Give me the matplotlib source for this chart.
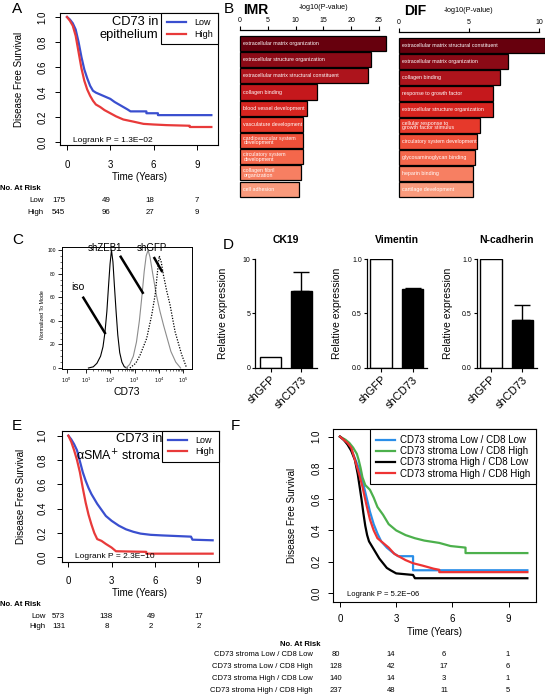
import numpy as np
import matplotlib.pyplot as plt

plt.rcParams['font.family'] = ['Liberation Sans', 'DejaVu Sans']

W, H = 545, 696

# ---------------- data ----------------
# A: CD73 in epithelium (Kaplan-Meier)
a_low_t = [0, 0.2, 0.4, 0.6, 0.8, 1.0, 1.2, 1.4, 1.6, 1.8, 2.0, 2.3, 2.6, 3.0, 3.3, 3.6, 3.9, 4.2, 4.4, 5.5, 5.5, 6.3, 6.3, 10]
a_low_s = [1.0, 0.98, 0.95, 0.90, 0.80, 0.68, 0.58, 0.51, 0.45, 0.41, 0.395, 0.38, 0.365, 0.345, 0.32, 0.30, 0.28, 0.26, 0.245, 0.245, 0.23, 0.23, 0.215, 0.215]
a_high_t = [0, 0.2, 0.4, 0.6, 0.8, 1.0, 1.2, 1.4, 1.6, 1.8, 2.0, 2.3, 2.6, 3.0, 3.4, 3.9, 4.6, 5.3, 6.0, 6.9, 8.5, 8.5, 10]
a_high_s = [1.0, 0.97, 0.93, 0.85, 0.72, 0.59, 0.49, 0.42, 0.37, 0.33, 0.30, 0.28, 0.255, 0.23, 0.205, 0.18, 0.163, 0.145, 0.14, 0.135, 0.13, 0.12, 0.12]
a_risk_low = [175, 49, 18, 7]
a_risk_high = [545, 96, 27, 9]

# E: CD73 in aSMA+ stroma
e_low_t = [0, 0.2, 0.4, 0.6, 0.8, 1.0, 1.2, 1.4, 1.6, 1.8, 2.0, 2.3, 2.6, 3.0, 3.5, 4.0, 4.5, 5.0, 5.7, 6.5, 7.5, 8.5, 8.6, 10]
e_low_s = [1.0, 0.97, 0.93, 0.88, 0.79, 0.70, 0.63, 0.57, 0.52, 0.48, 0.44, 0.39, 0.34, 0.30, 0.26, 0.23, 0.21, 0.195, 0.185, 0.18, 0.175, 0.17, 0.145, 0.14]
e_high_t = [0, 0.2, 0.4, 0.6, 0.8, 1.0, 1.2, 1.4, 1.6, 1.8, 2.0, 2.3, 2.6, 3.0, 3.3, 5.4, 5.4, 10]
e_high_s = [1.0, 0.95, 0.88, 0.80, 0.70, 0.57, 0.45, 0.35, 0.27, 0.20, 0.15, 0.135, 0.11, 0.08, 0.05, 0.045, 0.03, 0.03]
e_risk_low = [573, 138, 49, 17]
e_risk_high = [131, 8, 2, 2]

# F: CD73 stroma x CD8 groups
f_labels = ['CD73 stroma Low / CD8 Low', 'CD73 stroma Low / CD8 High',
            'CD73 stroma High / CD8 Low', 'CD73 stroma High / CD8 High']
f_ll_t = [0, 0.2, 0.4, 0.6, 0.8, 1.0, 1.2, 1.4, 1.6, 1.8, 2.0, 2.2, 2.5, 2.8, 3.1, 3.9, 3.9, 10]
f_ll_s = [1.0, 0.98, 0.96, 0.92, 0.86, 0.80, 0.72, 0.62, 0.52, 0.44, 0.38, 0.33, 0.29, 0.26, 0.235, 0.235, 0.145, 0.145]
f_lh_t = [0, 0.3, 0.5, 0.7, 0.9, 1.0, 1.1, 1.2, 1.35, 1.6, 1.8, 2.0, 2.3, 2.6, 3.0, 3.5, 4.0, 4.5, 5.3, 5.9, 6.7, 6.7, 10]
f_lh_s = [1.0, 0.98, 0.96, 0.93, 0.89, 0.85, 0.80, 0.74, 0.69, 0.66, 0.61, 0.55, 0.50, 0.44, 0.40, 0.37, 0.35, 0.335, 0.32, 0.30, 0.29, 0.255, 0.255]
f_hl_t = [0, 0.2, 0.4, 0.6, 0.8, 0.95, 1.05, 1.15, 1.25, 1.35, 1.45, 1.55, 1.7, 1.9, 2.1, 2.3, 2.5, 2.7, 3.0, 3.9, 4.0, 10]
f_hl_s = [1.0, 0.98, 0.95, 0.91, 0.85, 0.76, 0.68, 0.60, 0.51, 0.43, 0.37, 0.33, 0.30, 0.26, 0.22, 0.19, 0.16, 0.145, 0.125, 0.115, 0.094, 0.094]
f_hh_t = [0, 0.2, 0.4, 0.6, 0.8, 1.0, 1.2, 1.4, 1.6, 1.8, 2.0, 2.3, 2.6, 2.9, 3.2, 3.5, 3.9, 4.4, 5.0, 5.3, 5.3, 10]
f_hh_s = [1.0, 0.98, 0.96, 0.93, 0.85, 0.77, 0.68, 0.57, 0.47, 0.40, 0.35, 0.32, 0.29, 0.25, 0.23, 0.21, 0.19, 0.175, 0.155, 0.148, 0.133, 0.133]
f_risk = [[80, 14, 6, 1], [128, 42, 17, 6], [140, 14, 3, 1], [237, 48, 11, 5]]

# B: GO enrichment, -log10(P)
imr_terms = ['extracellular matrix organization', 'extracellular structure organization',
             'extracellular matrix structural constituent', 'collagen binding',
             'blood vessel development', 'vasculature development',
             'cardiovascular system\ndevelopment', 'circulatory system\ndevelopment',
             'collagen fibril\norganization', 'cell adhesion']
imr_vals = [26.2, 23.5, 23.0, 13.8, 12.1, 11.4, 11.4, 11.4, 10.9, 10.7]
dif_terms = ['extracellular matrix structural constituent', 'extracellular matrix organization',
             'collagen binding', 'response to growth factor',
             'extracellular structure organization', 'cellular response to\ngrowth factor stimulus',
             'circulatory system development', 'glycosaminoglycan binding',
             'heparin binding', 'cartilage development']
dif_vals = [10.4, 7.8, 7.2, 6.7, 6.7, 5.8, 5.6, 5.4, 5.3, 5.3]
go_colors = ['#67000d', '#8b0a16', '#ad141c', '#c5181c', '#d6241f',
             '#e6392b', '#ef5039', '#f4674b', '#f77f62', '#f99a7c']

# C: flow cytometry histograms (x in decades, y in % of mode)
iso_x = [1.10, 1.30, 1.45, 1.60, 1.70, 1.78, 1.86, 1.93, 1.99, 2.05, 2.11, 2.17, 2.24, 2.31, 2.39, 2.48, 2.58, 2.70]
iso_y = [0, 1, 4, 10, 18, 30, 48, 70, 88, 100, 90, 70, 48, 28, 13, 5, 1, 0]
zeb_x = [2.65, 2.80, 2.95, 3.08, 3.20, 3.30, 3.40, 3.48, 3.56, 3.64, 3.75, 3.90, 4.05, 4.20, 4.35, 4.50, 4.70, 4.90]
zeb_y = [0, 3, 10, 22, 40, 60, 82, 95, 100, 94, 80, 62, 48, 36, 25, 14, 5, 0]
gfp_x = [2.81, 3.05, 3.23, 3.50, 3.71, 3.85, 3.98, 4.02, 4.10, 4.19, 4.32, 4.46, 4.67, 4.85, 4.95, 5.15]
gfp_y = [0, 4, 11, 25, 45, 62, 88, 95, 90, 79, 66, 54, 31, 18, 11, 0]

# D: qPCR relative expression
d_groups = ['shGFP', 'shCD73']
ck19_vals = [1.0, 7.05]
ck19_err = [0, 1.75]
vim_vals = [1.0, 0.725]
vim_err = [0, 0.012]
ncad_vals = [1.0, 0.44]
ncad_err = [0, 0.14]

# ---------------- helpers ----------------
fig = plt.figure(figsize=(W / 100, H / 100), dpi=100)


def add_ax(l, t, r, b):
    return fig.add_axes([l / W, 1 - b / H, (r - l) / W, (b - t) / H])


def ftext(x, y, s, **kw):
    kw.setdefault('ha', 'center')
    kw.setdefault('va', 'center')
    return fig.text(x / W, 1 - y / H, s, **kw)


blue = '#3a4fcf'
red = '#e83a3a'


def km_style(ax, xlim, ylim, ypad, xpad):
    ax.set_xlim(xlim)
    ax.set_ylim(ylim)
    ax.set_xticks([0, 3, 6, 9])
    ax.set_yticks([0, 0.2, 0.4, 0.6, 0.8, 1.0])
    ax.set_yticklabels(['0.0', '0.2', '0.4', '0.6', '0.8', '1.0'], rotation=90, va='center')
    ax.tick_params(axis='both', length=3.6, width=0.7, labelsize=7)
    ax.tick_params(axis='y', pad=ypad)
    ax.tick_params(axis='x', pad=xpad)
    for sp in ax.spines.values():
        sp.set_linewidth(0.8)


def km_legend(ax, fs=6.5, **kw):
    leg = ax.legend(loc='upper right', fontsize=fs, frameon=True, fancybox=False,
                    edgecolor='black', framealpha=1, borderaxespad=0, **kw)
    leg.get_frame().set_linewidth(0.8)
    return leg


# ---------------- panel A ----------------
axA = add_ax(60, 13, 218, 145)
axA.plot(a_low_t, a_low_s, color=blue, lw=1.6, label='Low')
axA.plot(a_high_t, a_high_s, color=red, lw=1.6, label='High')
km_style(axA, (-0.485, 10.46), (-0.024, 1.032), ypad=5.5, xpad=7.5)
km_legend(axA, handlelength=2.1, handletextpad=0.9, borderpad=0.6, labelspacing=0.25)
ftext(158, 22, 'CD73 in', ha='right', fontsize=9.3)
ftext(158, 35, 'epithelium', ha='right', fontsize=9.3)
ftext(73, 140, 'Logrank P = 1.3E\u221202', ha='left', fontsize=6)
ftext(19.5, 79, 'Disease Free Survival', rotation=90, fontsize=7)
ftext(140, 176.7, 'Time (Years)', fontsize=7)
ftext(17, 9, 'A', fontsize=11)
ftext(0, 189, 'No. At Risk', ha='left', fontsize=5.6, fontweight='bold')
risk_x = [58.5, 106, 150, 197]
ftext(44, 201, 'Low', ha='right', fontsize=5.7)
ftext(44, 212, 'High', ha='right', fontsize=5.7)
for xx, n1, n2 in zip(risk_x, a_risk_low, a_risk_high):
    ftext(xx, 201, str(n1), fontsize=5.7)
    ftext(xx, 212, str(n2), fontsize=5.7)


# ---------------- panel B ----------------
def go_panel(l, t, r, b, terms, vals, xmax, ticks, top_off, bottom_off):
    ax = add_ax(l, t, r, b)
    y = np.arange(len(terms))
    ax.barh(y, vals, height=0.93, color=go_colors, edgecolor='black', linewidth=0.9, clip_on=False)
    for i, term in enumerate(terms):
        ax.annotate(term, (0, i), xytext=(2.5, 0), textcoords='offset points',
                    color='white', fontsize=3.8, va='center', ha='left', linespacing=0.95)
    ax.set_xlim(0, xmax)
    ax.set_ylim(len(terms) - 1 + bottom_off, -top_off)
    ax.xaxis.tick_top()
    ax.set_xticks(ticks)
    ax.set_yticks([])
    for s in ['left', 'right', 'bottom']:
        ax.spines[s].set_visible(False)
    ax.spines['top'].set_linewidth(0.9)
    ax.tick_params(axis='x', direction='out', length=3, width=0.8, labelsize=5, pad=1)
    return ax


go_panel(240, 30, 379, 196, imr_terms, imr_vals, 25, [0, 5, 10, 15, 20, 25], 0.835, 0.43)
go_panel(399, 32, 539, 198, dif_terms, dif_vals, 10, [0, 5, 10], 0.82, 0.52)
ftext(229, 9, 'B', fontsize=11)
ftext(256, 10, 'IMR', fontsize=10, fontweight='bold')
ftext(323.5, 7.5, '-log10(P-value)', fontsize=5.2)
ftext(415, 11, 'DIF', fontsize=10, fontweight='bold')
ftext(468.5, 11, '-log10(P-value)', fontsize=5.2)

# ---------------- panel C ----------------
axC = add_ax(62, 247, 192, 369)
axC.plot(iso_x, iso_y, color='black', lw=0.8)
axC.plot(zeb_x, zeb_y, color='0.55', lw=0.8)
axC.plot(gfp_x, gfp_y, color='black', lw=0.9, ls=(0, (1, 1.2)))
axC.set_xlim(0.01, 5.37)
axC.set_ylim(-0.85, 102.6)
axC.set_xticks([0.2, 1, 2, 3, 4, 5])
axC.set_xticklabels(['$10^{%d}$' % k for k in range(6)])
axC.set_xticks([k + np.log10(m) for k in range(1, 5) for m in range(2, 10)], minor=True)
axC.set_yticks([0, 20, 40, 60, 80, 100])
axC.set_yticks(range(0, 101, 5), minor=True)
axC.tick_params(axis='both', which='major', length=3, width=0.6, labelsize=3.6, pad=1.5)
axC.tick_params(axis='both', which='minor', length=1.5, width=0.4)
for sp in axC.spines.values():
    sp.set_linewidth(0.7)
# annotation strokes and labels
axC.plot([0.89, 1.78], [59.6, 29.7], color='black', lw=1.8, clip_on=False)
axC.plot([2.43, 3.34], [94.3, 63.8], color='black', lw=1.8, clip_on=False)
axC.plot([3.82, 4.12], [93.2, 82.3], color='black', lw=1.8, clip_on=False)
axC.text(0.67, 69, 'iso', fontsize=7.5, ha='center', va='center')
axC.text(1.78, 101.5, 'shZEB1', fontsize=7, ha='center', va='center')
axC.text(3.72, 101.5, 'shGFP', fontsize=7, ha='center', va='center')
ftext(42, 315, 'Normalized To Mode', rotation=90, fontsize=3.8)
ftext(127, 391.7, 'CD73', fontsize=7.5)
ftext(18, 240, 'C', fontsize=11)


# ---------------- panel D ----------------
def expr_panel(l, r, title, vals, errs, yticks, ytl, xlim, ylab_x):
    ax = add_ax(l, 259, r, 367.5)
    x = np.arange(len(d_groups))
    ax.bar(x, vals, width=0.68, color=['white', 'black'], edgecolor='black', linewidth=1.0)
    ax.errorbar(x[1], vals[1], yerr=[[0], [errs[1]]], fmt='none', ecolor='black',
                elinewidth=1.0, capsize=5.6, capthick=1.0)
    ax.set_xlim(xlim)
    ax.set_ylim(0, yticks[-1])
    ax.set_yticks(yticks)
    ax.set_yticklabels(ytl)
    ax.set_xticks(x)
    ax.set_xticklabels(d_groups, rotation=45, ha='right', rotation_mode='anchor')
    ax.spines['top'].set_visible(False)
    ax.spines['right'].set_visible(False)
    ax.spines['left'].set_linewidth(0.9)
    ax.spines['bottom'].set_linewidth(0.9)
    ax.tick_params(axis='y', length=2.5, width=0.8, labelsize=5, pad=1)
    ax.tick_params(axis='x', length=3, width=0.8, labelsize=8, pad=2)
    ftext((l + r) / 2, 240, title, fontsize=7.5, fontweight='bold')
    ftext(ylab_x, 313, 'Relative expression', rotation=90, fontsize=7.5)
    return ax


expr_panel(255, 316.7, 'CK19', ck19_vals, ck19_err, [0, 5, 10], ['0', '5', '10'], (-0.52, 1.51), 223)
expr_panel(366.7, 426.7, 'Vimentin', vim_vals, vim_err, [0, 0.5, 1.0], ['0.0', '0.5', '1.0'], (-0.46, 1.45), 337)
expr_panel(476.7, 537, 'N-cadherin', ncad_vals, ncad_err, [0, 0.5, 1.0], ['0.0', '0.5', '1.0'], (-0.445, 1.46), 448)
ftext(228, 245, 'D', fontsize=11)

# ---------------- panel E ----------------
axE = add_ax(61.7, 430.7, 219, 561.7)
axE.plot(e_low_t, e_low_s, color=blue, lw=1.6, label='Low')
axE.plot(e_high_t, e_high_s, color=red, lw=1.6, label='High')
km_style(axE, (-0.46, 10.44), (-0.036, 1.041), ypad=6.5, xpad=6.5)
km_legend(axE, handlelength=2.1, handletextpad=0.9, borderpad=0.6, labelspacing=0.25)
ftext(162, 439, 'CD73 in', ha='right', fontsize=9.3)
ftext(162, 455.7, '\u03b1SMA$^{+}$ stroma', ha='right', fontsize=9)
ftext(75, 556, 'Logrank P = 2.3E\u221210', ha='left', fontsize=6)
ftext(20.7, 496, 'Disease Free Survival', rotation=90, fontsize=7)
ftext(140, 593, 'Time (Years)', fontsize=7)
ftext(17, 426, 'E', fontsize=11)
ftext(0, 604, 'No. At Risk', ha='left', fontsize=5.6, fontweight='bold')
risk_xe = [58.5, 106.5, 151, 198.5]
ftext(46, 616, 'Low', ha='right', fontsize=5.7)
ftext(46, 626, 'High', ha='right', fontsize=5.7)
for xx, n1, n2 in zip(risk_xe, e_risk_low, e_risk_high):
    ftext(xx, 616, str(n1), fontsize=5.7)
    ftext(xx, 626, str(n2), fontsize=5.7)

# ---------------- panel F ----------------
axF = add_ax(333.3, 429.3, 536, 602.3)
f_series = [(f_ll_t, f_ll_s, '#2a8ee8'), (f_lh_t, f_lh_s, '#4cb04c'),
            (f_hl_t, f_hl_s, 'black'), (f_hh_t, f_hh_s, '#ee3333')]
for (tt, ss, cc), lab in zip(f_series, f_labels):
    axF.plot(tt, ss, color=cc, lw=1.6, label=lab)
km_style(axF, (-0.355, 10.46), (-0.06, 1.047), ypad=5, xpad=5)
km_legend(axF, fs=7, handlelength=1.95, handletextpad=0.55, borderpad=0.6, labelspacing=0.12)
ftext(347, 595, 'Logrank P = 5.2E\u221206', ha='left', fontsize=5.5)
ftext(291.7, 515, 'Disease Free Survival', rotation=90, fontsize=7)
ftext(434.5, 632, 'Time (Years)', fontsize=7)
ftext(235, 426, 'F', fontsize=11)
ftext(320.7, 645, 'No. At Risk', ha='right', fontsize=5.5, fontweight='bold')
risk_xf = [336, 391, 444, 508]
row_y = [655, 666.7, 678.3, 690]
for lab, yy, row in zip(f_labels, row_y, f_risk):
    ftext(313, yy, lab, ha='right', fontsize=5.5)
    for xx, n in zip(risk_xf, row):
        ftext(xx, yy, str(n), fontsize=5.5)

fig.savefig('out.png', dpi=100)
